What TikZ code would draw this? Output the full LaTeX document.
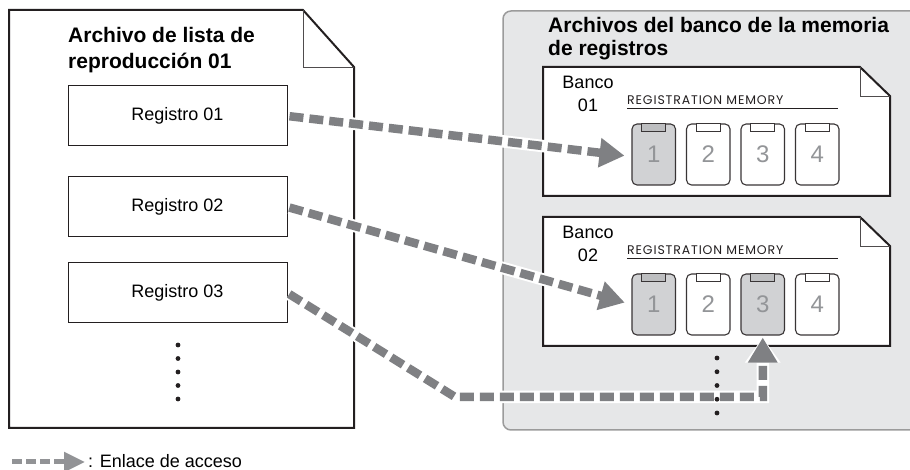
\documentclass[tikz,border=0pt]{standalone}
\usepackage{fontspec}
\setmainfont{Liberation Sans}
\newfontfamily\regfont{Poppins}[LetterSpace=7]
\usetikzlibrary{arrows.meta,calc,positioning}
\definecolor{InkBlack}{HTML}{231F20}
\definecolor{LinkGray}{HTML}{7F8083}
\definecolor{PanelGray}{HTML}{E6E7E8}
\definecolor{PanelLine}{HTML}{9B9B9B}
\definecolor{BtnGray}{HTML}{D1D2D4}
\definecolor{TabGray}{HTML}{BDBEC0}
\definecolor{NumGray}{HTML}{939598}

\begin{document}
\begin{tikzpicture}[x=1pt,y=1pt,every node/.style={font=\fontsize{18}{22}\selectfont,inner sep=0pt},
    doc/.style={draw=InkBlack,fill=white,line width=2pt,line join=miter},
    fold/.style={draw=InkBlack!80,line width=0.8pt},
    heading/.style={align=left,font=\bfseries\fontsize{21}{#1}\selectfont},
    regbox/.style={draw=InkBlack,fill=white,line width=1pt,minimum width=219pt,minimum height=60pt},
    bankname/.style={align=center,font=\fontsize{18}{23}\selectfont},
    memtitle/.style={font=\regfont\fontsize{12.5}{13}\selectfont,text=InkBlack},
    memline/.style={draw=InkBlack,line width=0.8pt},
    btn/.style={draw=InkBlack!90,line width=1.1pt,rounded corners=5pt,minimum width=43.5pt,minimum height=61pt,font=\fontsize{24}{24}\selectfont,text=NumGray},
    tab/.style={draw=InkBlack!90,line width=1pt},
    link/.style={draw=LinkGray,line width=8.5pt,dash pattern=on 14pt off 6pt,-{Triangle[length=25pt,width=28pt]},
      preaction={draw=white,solid,line width=12.5pt,-{Triangle[length=25pt,width=34pt]}}},
    keylink/.style={draw=LinkGray!85,line width=5pt,dash pattern=on 10pt off 4pt,-{Triangle[length=21pt,width=19pt]}}]
    \clip (0,0) rectangle (910,470);
    % play list file
    \draw[doc] (9,460) -- (303,460) -- (354,403) -- (354,42) -- (9,42) -- cycle;
    \draw[fold] (303,460) -- (303,403) -- (354,403);
    \node[heading=26,anchor=north west] (listtitle) at (68,443.3) {Archivo de lista de\\reproducción 01};
    \node[regbox] (reg1) at (177.5,354) {Registro 01};
    \node[regbox] (reg2) at (177.5,263) {Registro 02};
    \node[regbox] (reg3) at (177.5,177) {Registro 03};
    % bank files
    \draw[draw=PanelLine,fill=PanelGray,line width=1.5pt,rounded corners=8pt] (503,40) rectangle (925,459);
    \node[heading=23,anchor=north west] (banktitle) at (548,453.3) {Archivos del banco de la memoria\\de registros};
    \foreach \k/\ytop/\fills in {1/403/{BtnGray/TabGray,white/white,white/white,white/white},
                                 2/253/{BtnGray/TabGray,white/white,BtnGray/TabGray,white/white}}{
      \draw[doc] (543,\ytop) -- (860,\ytop) -- (890,\ytop-29) -- (890,\ytop-129) -- (543,\ytop-129) -- cycle;
      \draw[fold] (860,\ytop) -- (860,\ytop-29) -- (890,\ytop-29);
      \node[bankname,anchor=north] (bank\k) at (588,\ytop-9) {Banco\\0\k};
      \node[memtitle,anchor=base west] (mem\k) at (627,\ytop-38) {REGISTRATION MEMORY};
      \draw[memline] (627,\ytop-41.5) -- (838,\ytop-41.5);
      \foreach \c/\t [count=\i] in \fills {
        \node[btn,fill=\c] (m\k-\i) at (653.75+54.5*\i-54.5,\ytop-87.5) {\raisebox{-3pt}{\i}};
        \draw[tab,fill=\t] ([xshift=-12pt]m\k-\i.north) rectangle ([xshift=12pt,yshift=-8pt]m\k-\i.north);
      }
    }
    % links
    \coordinate (bend) at (455,73);
    \draw[link,shorten <=2pt,shorten >=7pt] (reg1.east) -- ([yshift=-2pt]m1-1.west);
    \draw[link,shorten <=2pt,shorten >=7pt] (reg2.east) -- (m2-1.west);
    \draw[link,shorten <=2pt,shorten >=2pt] (reg3.east) -- (bend) -| (m2-3.south);
    \foreach \j in {0,...,4} \fill[InkBlack] (178,125-13.5*\j) circle (2.4pt);
    \foreach \j in {0,...,4} \fill[InkBlack] (717,112-13.75*\j) circle (2.4pt);
    % legend
    \coordinate (keystart) at (12,8);
    \node[anchor=base west] (keytext) at (88,2) {: Enlace de acceso};
    \draw[keylink] (keystart) -- ([xshift=-3pt]keytext.west |- keystart);
  \end{tikzpicture}
\end{document}
